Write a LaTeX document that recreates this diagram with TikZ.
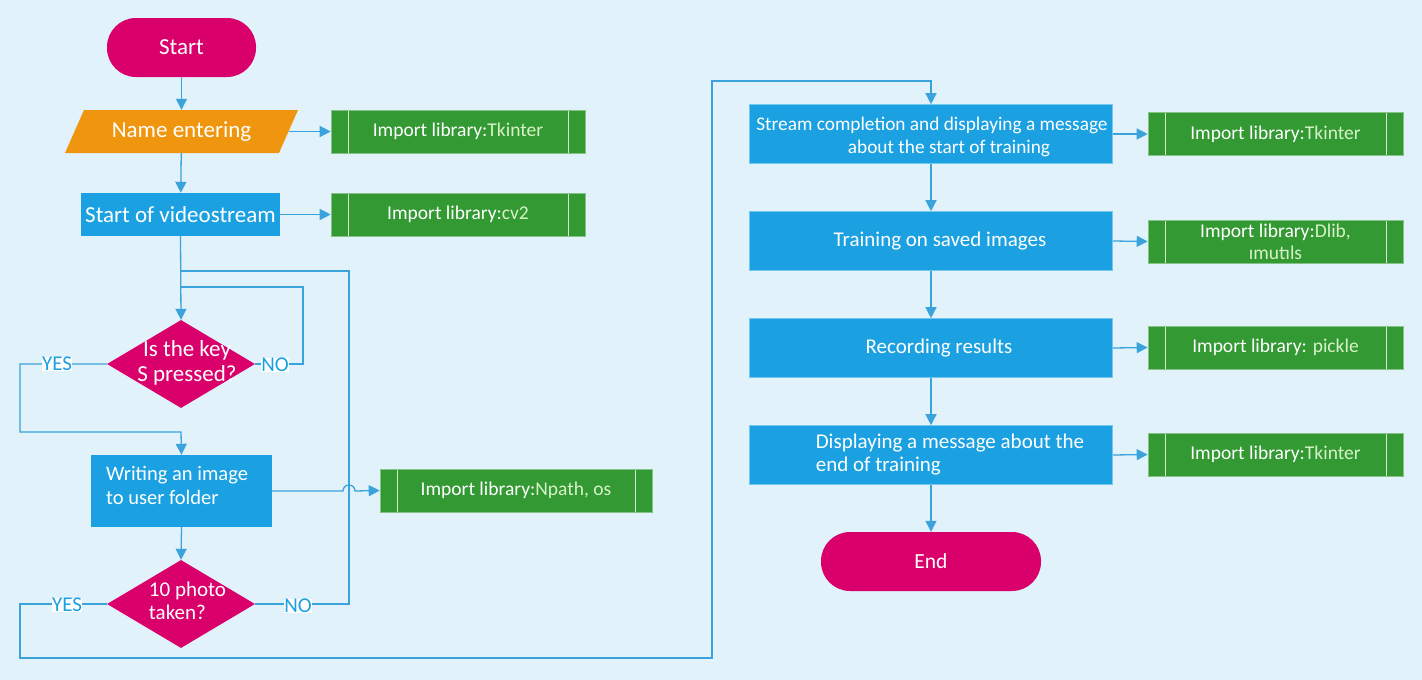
\documentclass[tikz,border=0pt]{standalone}
\usepackage{fontspec}
\setmainfont{Carlito}
\usetikzlibrary{arrows.meta,shapes.geometric}
\definecolor{bg}{HTML}{E1F2FB}
\definecolor{mag}{HTML}{D9006C}
\definecolor{orng}{HTML}{F0960E}
\definecolor{blu}{HTML}{1BA1E2}
\definecolor{grn}{HTML}{339933}
\definecolor{libtxt}{HTML}{D8F2C8}
\definecolor{ln}{HTML}{3BA3DC}
\definecolor{lbl}{HTML}{1BA1E2}
\begin{document}
\begin{tikzpicture}[x=1pt,y=-1pt,
  base/.style={text=white,font=\fontsize{21}{23}\selectfont,inner sep=0pt},
  big/.style={base,font=\fontsize{23}{25}\selectfont},
  term/.style={base,fill=mag,rounded corners=29pt,minimum height=59pt},
  proc/.style={base,fill=blu,draw=blu!60!white,line width=0.6pt,minimum height=59pt,minimum width=363pt},
  lib/.style={fill=grn,draw=grn!60!white,line width=0.6pt,minimum height=43pt,text=white,
     font=\fontsize{19.5}{22}\selectfont,inner sep=0pt,align=center,
     path picture={\draw[white!80!grn,line width=1pt]
       ([xshift=17pt]path picture bounding box.north west) -- ([xshift=17pt]path picture bounding box.south west)
       ([xshift=-17pt]path picture bounding box.north east) -- ([xshift=-17pt]path picture bounding box.south east);}},
  dec/.style={diamond,fill=mag,minimum width=148pt,minimum height=88pt,inner sep=0pt},
  line/.style={draw=ln,line width=1.3pt},
  arr/.style={line,-{Triangle[length=11pt,width=11pt]}},
  lab/.style={text=lbl,fill=white,inner sep=0.3pt,font=\fontsize{21}{22}\selectfont}
]
\fill[bg] (0,0) rectangle (1422,680);
\useasboundingbox (0,0) rectangle (1422,680);

% left column
\node[term,big,minimum width=149pt] (start) at (181.5,47.5) {Start};
\fill[orng] (84,110) -- (298,110) -- (279,153) -- (65,153) -- cycle;
\node[big,minimum width=214pt,minimum height=43pt] (name) at (181.5,131.5) {Name entering};
\node[lib,minimum width=254pt] (lib1) at (458,131.5) {Import library:\textcolor{libtxt}{Tkinter}};
\node[big,fill=blu,minimum width=199pt,minimum height=43pt] (vs) at (180.5,214.5) {Start of videostream};
\node[lib,minimum width=254pt] (lib2) at (458,214.5) {Import library:\textcolor{libtxt}{cv2}};
\node[dec] (d1) at (181,364) {};
\node[big,align=center] (t1) at (187,363) {Is the key\\S pressed?};
\node[base,fill=blu,minimum width=181pt,minimum height=72pt] (wr) at (181.5,491) {};
\node[base,align=left,font=\fontsize{20.5}{24}\selectfont,anchor=west] (wrt) at (106,485) {Writing an image\\to user folder};
\node[lib,minimum width=272pt] (lib3) at (516,490.5) {Import library:\textcolor{libtxt}{Npath, os}};
\node[dec] (d2) at (181,604) {};
\node[base,align=left] (t2) at (187.5,601) {10 photo\\taken?};

% right column
\node[proc] (pa) at (931,134) {};
\node[base,align=center,font=\fontsize{19.3}{23}\selectfont] (pat) at (932,137) {Stream completion and displaying a message\\\hspace*{34pt}about the start of training};
\node[proc] (pb) at (931,241) {\hspace*{18pt}\raisebox{-2pt}{Training on saved images}};
\node[proc] (pc) at (931,348) {\hspace*{16pt}\raisebox{1pt}{Recording results}};
\node[proc,align=left] (pd) at (931,455) {\hspace*{38pt}Displaying a message about the\\\hspace*{38pt}end of training};
\node[term,font=\fontsize{21.5}{23}\selectfont,minimum width=220pt] (end) at (931,561.5) {End};

\node[lib,minimum width=255pt] (la) at (1275.5,134) {Import library:\textcolor{libtxt}{Tkinter}};
\node[lib,minimum width=255pt] (lb) at (1275.5,241.5) {Import library:\textcolor{libtxt}{Dlib,}\\\textcolor{libtxt}{ımutıls}};
\node[lib,minimum width=255pt] (lc) at (1275.5,347.5) {Import library: \textcolor{libtxt}{pickle}};
\node[lib,minimum width=255pt] (ld) at (1275.5,454.5) {Import library:\textcolor{libtxt}{Tkinter}};

% helper coordinates
\coordinate (j1) at (181,271);
\coordinate (j2) at (181,287);
\coordinate (j3) at (181,432);
\coordinate (rx) at (349,0);
\coordinate (nx) at (303,0);
\coordinate (lx) at (20,0);
\coordinate (bot) at (0,658);
\coordinate (mx) at (712,81);
\coordinate (jp) at (rx |- wr.east);

% connectors
\draw[arr] (start) -- (name);
\draw[arr] (name) -- (vs);
\draw[arr] (name.east) -- (lib1.west);
\draw[arr] (vs.east) -- (lib2.west);
\draw[arr] (vs.south) -- (d1.north);
\draw[line] (d1.east) -- (d1.east -| nx) |- (j2);
\draw[line] (d2.east) -- (d2.east -| rx) |- (j1);
\draw[arr] (d1.west) -- (d1.west -| lx) |- (j3) -- (wr.north);
\draw[arr] (wr.south) -- (d2.north);
\draw[arr] (wr.east) -- ([xshift=-6pt]jp) arc[start angle=180,end angle=0,radius=6pt] -- (lib3.west);
\draw[arr] (d2.west) -- (d2.west -| lx) |- (mx |- bot) |- (mx -| pa.north) -- (pa.north);

\draw[arr] (pa) -- (pb);
\draw[arr] (pb) -- (pc);
\draw[arr] (pc) -- (pd);
\draw[arr] (pd) -- (end);
\draw[arr] (pa.east) -- (la.west);
\draw[arr] (pb.east) -- (lb.west);
\draw[arr] (pc.east) -- (lc.west);
\draw[arr] (pd.east) -- (ld.west);

% labels
\node[lab] (y1) at (57,364) {YES};
\node[lab] (n1) at (275,365) {NO};
\node[lab] (y2) at (67,605) {YES};
\node[lab] (n2) at (298,606) {NO};
\end{tikzpicture}
\end{document}
